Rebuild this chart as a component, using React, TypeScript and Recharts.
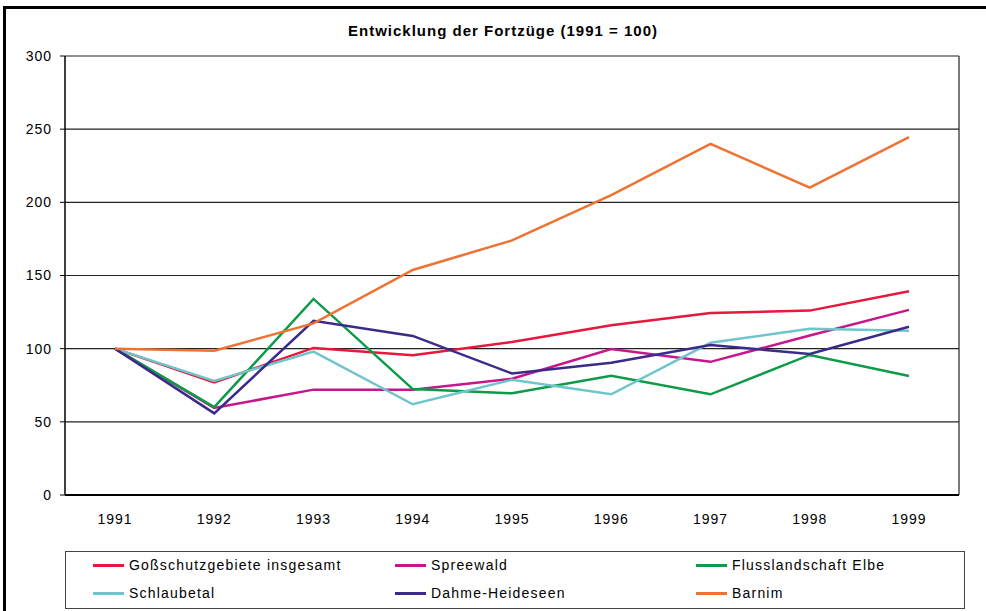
import React from "react";
import { CartesianGrid, Line, LineChart, XAxis, YAxis } from "recharts";

const years = ["1991", "1992", "1993", "1994", "1995", "1996", "1997", "1998", "1999"];

const gesamt = [100, 77, 100.5, 95.5, 104.5, 116, 124.3, 126, 139.3];
const spreewald = [100, 59.5, 72, 72, 79.5, 99.8, 91, 109, 126.5];
const elbe = [100, 60, 134, 72.4, 69.5, 81.5, 68.8, 95.7, 81.3];
const schlaubetal = [100, 78, 98, 62, 78.8, 68.8, 104, 113.6, 112.3];
const dahme = [100, 55.8, 119, 108.7, 83, 90.4, 102.5, 96.4, 115];
const barnim = [100, 98.6, 117.3, 153.8, 174, 205, 240, 210, 244.5];

const yTicks = [0, 50, 100, 150, 200, 250, 300];

const series = [
  { key: "gesamt", name: "Goßschutzgebiete insgesamt", color: "#E8173C", values: gesamt },
  { key: "spreewald", name: "Spreewald", color: "#C7168B", values: spreewald },
  { key: "elbe", name: "Flusslandschaft Elbe", color: "#0D9B47", values: elbe },
  { key: "schlaubetal", name: "Schlaubetal", color: "#6FC6CA", values: schlaubetal },
  { key: "dahme", name: "Dahme-Heideseen", color: "#3B2A8A", values: dahme },
  { key: "barnim", name: "Barnim", color: "#EE7232", values: barnim },
];

const chartData = years.map((year, i) => {
  const row: Record<string, string | number> = { year };
  series.forEach((s) => {
    row[s.key] = s.values[i];
  });
  return row;
});

const font = '"Liberation Sans", Arial, sans-serif';
const tickStyle = { fontSize: 14, fill: "#000", fontFamily: font, letterSpacing: 1 };

const legendCols = [93, 395, 696];

// only a right-hand border line for the plot area, left side is the y axis
const rightEdge = ({ offset }: any) => [offset.left + offset.width];

export default function App() {
  return (
    <div
      style={{
        position: "absolute",
        left: 0,
        top: 0,
        width: 986,
        height: 611,
        background: "#fff",
        overflow: "hidden",
        fontFamily: font,
      }}
    >
      {/* outer frame, only left and top edges show in the picture */}
      <div
        style={{
          position: "absolute",
          left: 3,
          top: 6,
          width: 990,
          height: 620,
          borderLeft: "3px solid #000",
          borderTop: "3px solid #000",
        }}
      />
      <div
        style={{
          position: "absolute",
          top: 22,
          left: 0,
          width: 1006,
          textAlign: "center",
          fontWeight: "bold",
          fontSize: 15,
          letterSpacing: 1,
        }}
      >
        Entwicklung der Fortzüge (1991 = 100)
      </div>
      <div style={{ position: "absolute", left: 0, top: 0 }}>
        <LineChart
          width={986}
          height={611}
          data={chartData}
          margin={{ top: 56, right: 27, bottom: 86, left: 20 }}
        >
          <CartesianGrid
            horizontal
            vertical
            verticalCoordinatesGenerator={rightEdge}
            stroke="#222"
            strokeWidth={1.2}
          />
          <XAxis
            dataKey="year"
            padding={{ left: 50, right: 50 }}
            tick={tickStyle}
            tickLine={false}
            tickSize={6}
            tickMargin={13}
            axisLine={{ stroke: "#000", strokeWidth: 2 }}
            height={30}
          />
          <YAxis
            domain={[0, 300]}
            ticks={yTicks}
            tick={tickStyle}
            tickSize={5}
            tickMargin={8}
            tickLine={{ stroke: "#000" }}
            axisLine={{ stroke: "#000", strokeWidth: 1.5 }}
            width={45}
          />
          {series.map((s) => (
            <Line
              key={s.key}
              type="linear"
              dataKey={s.key}
              name={s.name}
              stroke={s.color}
              strokeWidth={2.5}
              dot={false}
              activeDot={false}
              isAnimationActive={false}
            />
          ))}
        </LineChart>
      </div>
      {/* legend box */}
      <div
        style={{
          position: "absolute",
          left: 65,
          top: 551,
          width: 898,
          height: 56,
          border: "1px solid #444",
        }}
      />
      {series.map((s, i) => {
        const col = i % 3;
        const row = Math.floor(i / 3);
        return (
          <div
            key={s.key}
            style={{
              position: "absolute",
              left: legendCols[col],
              top: 565 + row * 28 - 9,
              height: 18,
              display: "flex",
              alignItems: "center",
              fontSize: 14,
              letterSpacing: 1.2,
              whiteSpace: "nowrap",
            }}
          >
            <span
              style={{
                display: "inline-block",
                width: 31,
                height: 3,
                background: s.color,
                marginRight: 5,
              }}
            />
            {s.name}
          </div>
        );
      })}
    </div>
  );
}
